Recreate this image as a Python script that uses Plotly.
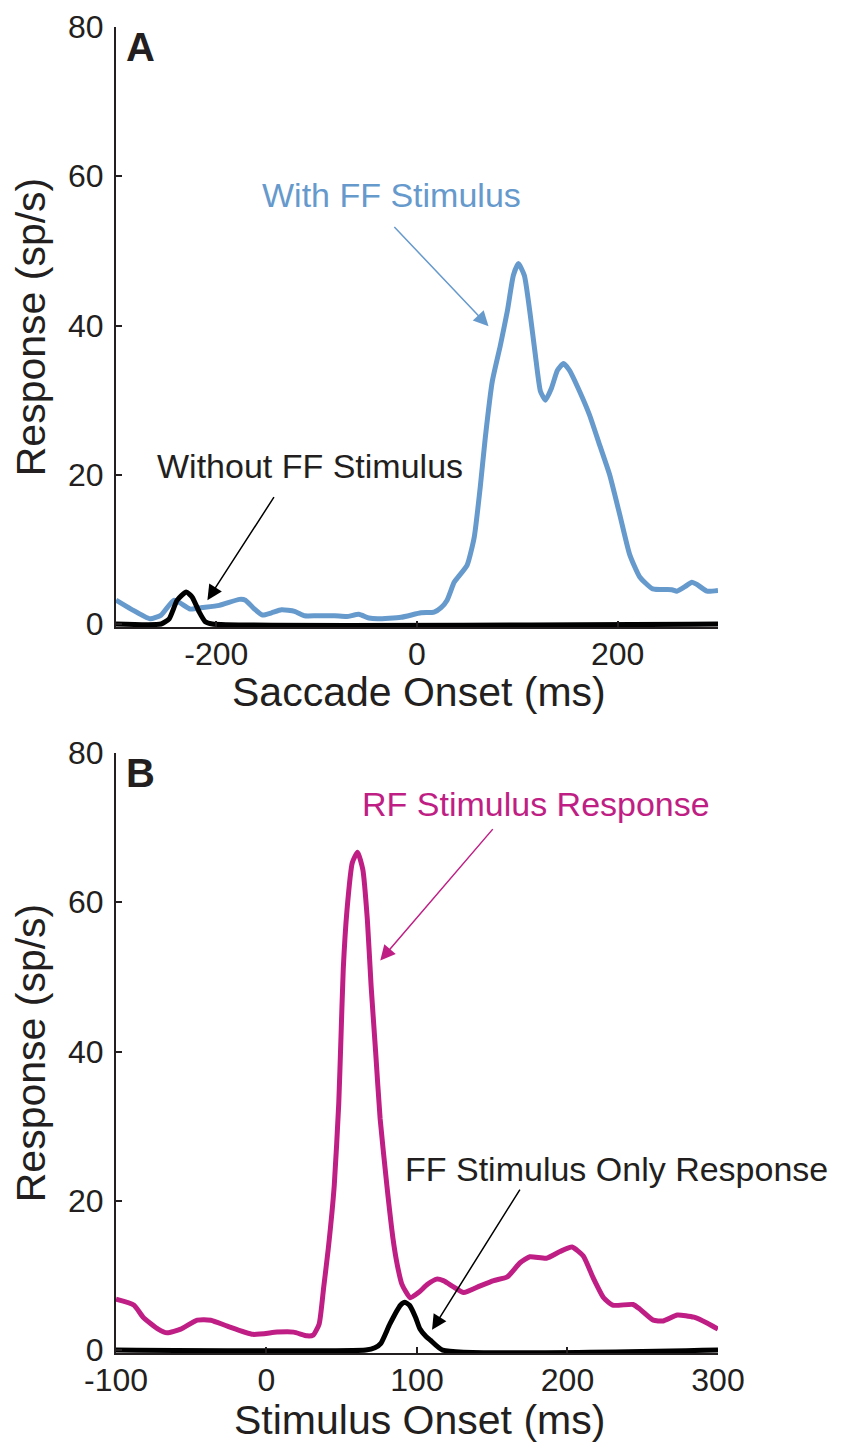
import plotly.graph_objects as go

# ---------- Panel A data (Saccade onset) ----------
a_ff_x = [-300, -285, -266, -255, -242, -226, -214, -197, -177, -171, -162, -154, -145, -135,
          -122, -112, -100, -82, -70, -58, -48, -39, -16, 4, 17, 24, 30, 37, 41, 50, 57, 63,
          68, 75, 83, 90, 96, 101, 107, 113, 118, 123, 128, 134, 140, 146, 152, 162, 172,
          182, 192, 202, 212, 222, 235, 254, 259, 267, 274, 279, 289, 300]
a_ff_y = [3.2, 2.0, 0.7, 1.2, 3.2, 2.0, 2.2, 2.5, 3.3, 3.2, 2.0, 1.2, 1.5, 1.9,
          1.7, 1.1, 1.1, 1.1, 1.0, 1.3, 0.8, 0.7, 0.9, 1.5, 1.6, 2.2, 3.2, 5.6, 6.3, 7.9, 11.6, 18.3,
          24.9, 32.5, 37.3, 41.9, 46.7, 48.3, 46.7, 41.3, 36.0, 31.2, 30.0, 31.6, 34.0, 34.9, 34.0, 31.2, 28.0,
          24.0, 20.0, 14.7, 9.3, 6.3, 4.7, 4.6, 4.4, 5.0, 5.6, 5.3, 4.4, 4.5]

a_noff_x = [-300, -255, -247, -239, -230, -224, -217, -211, -204, 300]
a_noff_y = [0, 0, 0.7, 3.2, 4.3, 3.6, 1.6, 0.3, 0, 0]

# ---------- Panel B data (Stimulus onset) ----------
b_rf_x = [-100, -88, -82, -72, -66, -57, -46, -37, -26, -9, 7, 18, 27, 31, 35, 38, 41, 45, 48,
          49.5, 51, 53.5, 57, 60.5, 64, 67, 69.5, 72.5, 75.5, 80, 84, 87, 90, 95.5, 101, 107,
          113, 117.5, 124, 131, 142, 151, 160, 168.5, 175, 186, 195, 203, 210.5, 217, 224,
          230, 243.5, 248, 257, 263.5, 273, 284, 293, 300]
b_rf_y = [6.8, 6.0, 4.4, 2.8, 2.3, 2.8, 4.0, 4.0, 3.2, 2.1, 2.4, 2.4, 1.9, 2.0, 3.5, 8.4, 13.5, 22.0, 33.0,
          42.0, 51.0, 59.0, 65.3, 66.7, 64.4, 57.7, 48.8, 40.0, 31.0, 22.0, 15.0, 11.3, 8.8, 7.0, 7.7, 8.8,
          9.5, 9.3, 8.5, 7.7, 8.6, 9.3, 9.8, 11.7, 12.5, 12.3, 13.2, 13.8, 12.6, 9.7, 7.0,
          6.0, 6.1, 5.5, 4.0, 3.9, 4.7, 4.4, 3.6, 2.8]

b_ff_x = [-100, 66, 72, 76, 82, 89, 92, 95, 99, 102, 106, 109, 117, 300]
b_ff_y = [0, 0, 0.3, 0.9, 3.5, 6.0, 6.4, 6.0, 4.4, 2.8, 1.8, 1.3, 0, 0]

y_ticks = [0, 20, 40, 60, 80]
a_x_ticks = [-200, 0, 200]
a_x_labels = ["-200", "0", "200"]
b_x_ticks = [-100, 0, 100, 200, 300]
b_x_labels = ["-100", "0", "100", "200", "300"]

BLUE = "#6699cc"
MAGENTA = "#bf1e84"
INK = "#231f20"
TICK_FONT = dict(family="Liberation Sans, Arial", size=32, color=INK)
TITLE_FONT = dict(family="Liberation Sans, Arial", size=41, color=INK)
ANN_FONT = "Liberation Sans, Arial"
LW = 5

fig = go.Figure()
fig.add_trace(go.Scatter(x=a_ff_x, y=a_ff_y, mode="lines", line=dict(color=BLUE, width=LW, shape="spline", smoothing=0.5),
                         xaxis="x", yaxis="y", showlegend=False))
fig.add_trace(go.Scatter(x=a_noff_x, y=a_noff_y, mode="lines", line=dict(color="black", width=LW, shape="spline", smoothing=0.5),
                         xaxis="x", yaxis="y", showlegend=False))
fig.add_trace(go.Scatter(x=b_rf_x, y=b_rf_y, mode="lines", line=dict(color=MAGENTA, width=LW, shape="spline", smoothing=0.5),
                         xaxis="x2", yaxis="y2", showlegend=False))
fig.add_trace(go.Scatter(x=b_ff_x, y=b_ff_y, mode="lines", line=dict(color="black", width=LW, shape="spline", smoothing=0.5),
                         xaxis="x2", yaxis="y2", showlegend=False))

common_x = dict(showline=True, linecolor=INK, linewidth=2, ticks="inside", ticklen=6, tickwidth=2, tickcolor=INK,
                showgrid=False, zeroline=False, tickfont=TICK_FONT, ticklabelstandoff=-2, automargin=False)
common_y = dict(showline=True, linecolor=INK, linewidth=2, ticks="inside", ticklen=6, tickwidth=2, tickcolor=INK,
                showgrid=False, zeroline=False, tickfont=TICK_FONT, range=[-0.4, 80], tickvals=y_ticks,
                ticklabelstandoff=4, automargin=False)

# page body has an 8px margin, so the figure is 840x1440 placed at (8, 8)
fig.update_layout(
    width=840, height=1440,
    margin=dict(l=0, r=0, t=0, b=0),
    paper_bgcolor="white", plot_bgcolor="white",
    xaxis=dict(domain=[0.12857, 0.84524], anchor="y", range=[-300, 300], tickvals=a_x_ticks, ticktext=a_x_labels,
               **common_x),
    yaxis=dict(domain=[0.57014, 0.98681], anchor="x",
               title=dict(text="Response (sp/s)", font=TITLE_FONT, standoff=12), **common_y),
    xaxis2=dict(domain=[0.12857, 0.84524], anchor="y2", range=[-100, 300], tickvals=b_x_ticks, ticktext=b_x_labels,
                **common_x),
    yaxis2=dict(domain=[0.06597, 0.48264], anchor="x2",
                title=dict(text="Response (sp/s)", font=TITLE_FONT, standoff=12), **common_y),
)

anns = [
    # x-axis titles
    dict(text="Saccade Onset (ms)", x=0.4893, y=0.5250, xref="paper", yref="paper", showarrow=False,
         font=TITLE_FONT, xanchor="center", yanchor="middle"),
    dict(text="Stimulus Onset (ms)", x=0.4893, y=0.0194, xref="paper", yref="paper", showarrow=False,
         font=TITLE_FONT, xanchor="center", yanchor="middle"),
    # panel letters
    dict(text="<b>A</b>", x=0.15833, y=0.97292, xref="paper", yref="paper", showarrow=False,
         xanchor="center", yanchor="middle", font=dict(family=ANN_FONT, size=40, color=INK)),
    dict(text="<b>B</b>", x=0.15833, y=0.46875, xref="paper", yref="paper", showarrow=False,
         xanchor="center", yanchor="middle", font=dict(family=ANN_FONT, size=40, color=INK)),
    # panel A labels
    dict(text="With FF Stimulus", x=-25.7, y=57.5, xref="x", yref="y", showarrow=False,
         font=dict(family=ANN_FONT, size=34, color=BLUE)),
    dict(text="Without FF Stimulus", x=-106.4, y=21.2, xref="x", yref="y", showarrow=False,
         font=dict(family=ANN_FONT, size=34, color=INK)),
    dict(text="", x=71.3, y=39.9, ax=-24, ay=53.4, xref="x", yref="y", axref="x", ayref="y",
         showarrow=True, arrowhead=2, arrowsize=2.0, arrowwidth=1.5, arrowcolor=BLUE),
    dict(text="", x=-208.9, y=3.2, ax=-141.6, ay=17.2, xref="x", yref="y", axref="x", ayref="y",
         showarrow=True, arrowhead=2, arrowsize=2.0, arrowwidth=1.5, arrowcolor="black"),
    # panel B labels
    dict(text="RF Stimulus Response", x=179.4, y=73.1, xref="x2", yref="y2", showarrow=False,
         font=dict(family=ANN_FONT, size=34, color=MAGENTA)),
    dict(text="FF Stimulus Only Response", x=232.5, y=24.3, xref="x2", yref="y2", showarrow=False,
         font=dict(family=ANN_FONT, size=34, color=INK)),
    dict(text="", x=75.6, y=52.2, ax=151.2, ay=70, xref="x2", yref="y2", axref="x2", ayref="y2",
         showarrow=True, arrowhead=2, arrowsize=2.0, arrowwidth=1.5, arrowcolor=MAGENTA),
    dict(text="", x=110, y=2.7, ax=169, ay=21.7, xref="x2", yref="y2", axref="x2", ayref="y2",
         showarrow=True, arrowhead=2, arrowsize=2.0, arrowwidth=1.5, arrowcolor="black"),
]
fig.update_layout(annotations=anns)

fig.write_html("out.html")
